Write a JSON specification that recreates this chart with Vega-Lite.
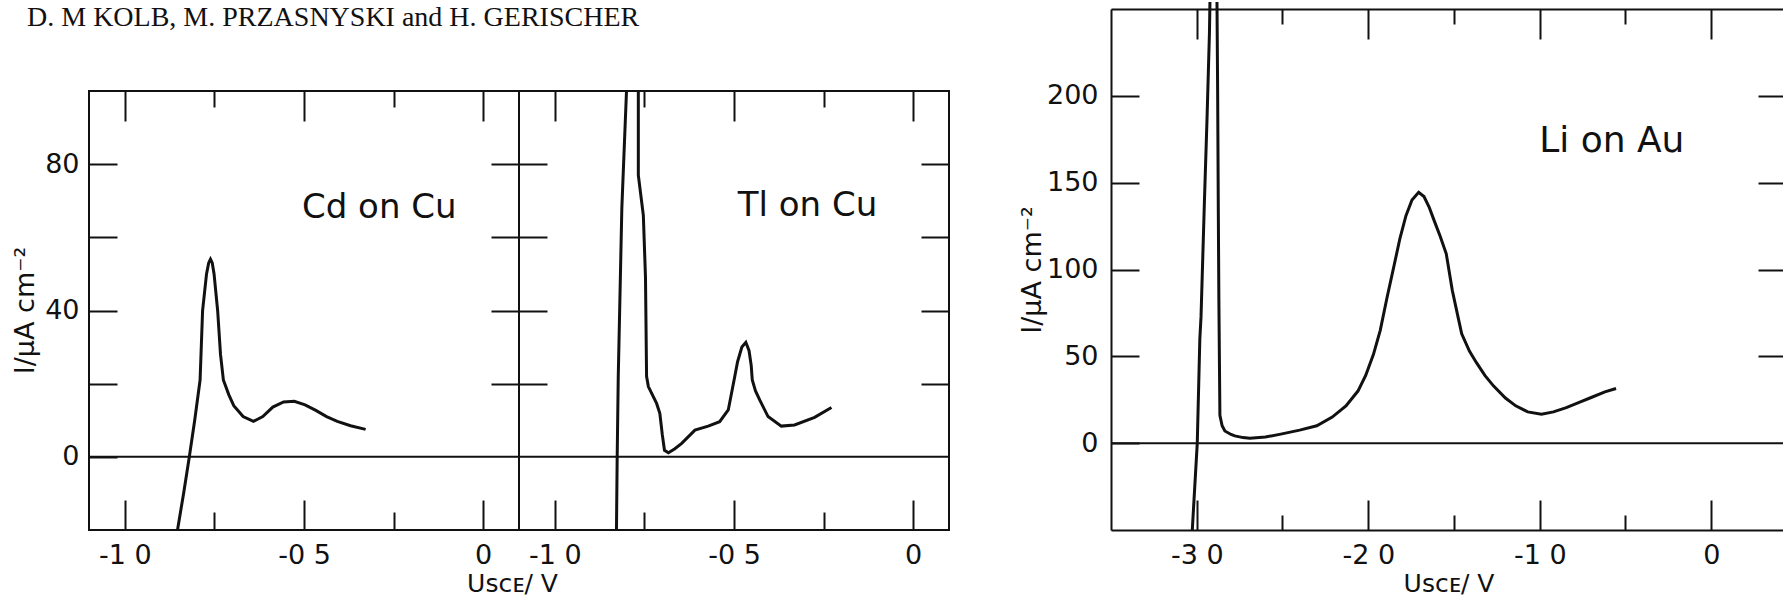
{
  "$schema": "https://vega.github.io/schema/vega-lite/v6.json",
  "padding": {"left": 11, "top": -4, "right": 0, "bottom": 0},
  "background": "white",
  "config": {
    "font": "DejaVu Sans",
    "view": {"stroke": null},
    "axis": {"grid": false, "domain": false, "tickColor": "#111", "tickWidth": 2, "labelColor": "#111", "labelFont": "DejaVu Sans", "labelFontSize": 27, "titleFont": "DejaVu Sans", "titleFontWeight": "normal", "titleColor": "#111", "domainColor": "#111", "domainWidth": 2, "labelFlush": false, "labelOverlap": false}
  },
  "datasets": {
    "zero": [{"I": 0}],
    "ann": [
      {"panel": "hdr", "V": -1.273, "I": 123.8, "label": "D. M KOLB, M. PRZASNYSKI and H. GERISCHER"},
      {"panel": "Cd", "V": -0.29, "I": 68, "label": "Cd on Cu"},
      {"panel": "Tl", "V": -0.295, "I": 68.5, "label": "Tl on Cu"},
      {"panel": "Li", "V": -0.58, "I": 174, "label": "Li on Au"}
    ],
    "cd": [
      {"s": "a", "i": 1, "V": -0.853, "I": -20},
      {"s": "a", "i": 2, "V": -0.836, "I": -10},
      {"s": "a", "i": 3, "V": -0.82, "I": 0},
      {"s": "a", "i": 4, "V": -0.805, "I": 10},
      {"s": "a", "i": 5, "V": -0.79, "I": 21},
      {"s": "a", "i": 6, "V": -0.783, "I": 40},
      {"s": "a", "i": 7, "V": -0.772, "I": 50},
      {"s": "a", "i": 8, "V": -0.766, "I": 53},
      {"s": "a", "i": 9, "V": -0.761, "I": 54},
      {"s": "a", "i": 10, "V": -0.756, "I": 53},
      {"s": "a", "i": 11, "V": -0.751, "I": 50},
      {"s": "a", "i": 12, "V": -0.741, "I": 40},
      {"s": "a", "i": 13, "V": -0.733, "I": 28},
      {"s": "a", "i": 14, "V": -0.725, "I": 21},
      {"s": "a", "i": 15, "V": -0.71, "I": 17},
      {"s": "a", "i": 16, "V": -0.696, "I": 14},
      {"s": "a", "i": 17, "V": -0.67, "I": 11},
      {"s": "a", "i": 18, "V": -0.641, "I": 9.7},
      {"s": "a", "i": 19, "V": -0.615, "I": 11},
      {"s": "a", "i": 20, "V": -0.587, "I": 13.6},
      {"s": "a", "i": 21, "V": -0.557, "I": 15},
      {"s": "a", "i": 22, "V": -0.527, "I": 15.2},
      {"s": "a", "i": 23, "V": -0.497, "I": 14.2},
      {"s": "a", "i": 24, "V": -0.467, "I": 12.7},
      {"s": "a", "i": 25, "V": -0.437, "I": 11},
      {"s": "a", "i": 26, "V": -0.407, "I": 9.7},
      {"s": "a", "i": 27, "V": -0.37, "I": 8.5},
      {"s": "a", "i": 28, "V": -0.328, "I": 7.5}
    ],
    "tl": [
      {"s": "a", "i": 1, "V": -0.828, "I": -20},
      {"s": "a", "i": 2, "V": -0.826, "I": 0},
      {"s": "a", "i": 3, "V": -0.823, "I": 22},
      {"s": "a", "i": 4, "V": -0.813, "I": 68},
      {"s": "a", "i": 5, "V": -0.8, "I": 100},
      {"s": "b", "i": 1, "V": -0.767, "I": 100},
      {"s": "b", "i": 2, "V": -0.767, "I": 77},
      {"s": "b", "i": 3, "V": -0.753, "I": 66},
      {"s": "b", "i": 4, "V": -0.747, "I": 49},
      {"s": "b", "i": 5, "V": -0.744, "I": 22},
      {"s": "b", "i": 6, "V": -0.739, "I": 19.2},
      {"s": "b", "i": 7, "V": -0.716, "I": 14.6},
      {"s": "b", "i": 8, "V": -0.707, "I": 11.9},
      {"s": "b", "i": 9, "V": -0.7, "I": 6},
      {"s": "b", "i": 10, "V": -0.694, "I": 1.8},
      {"s": "b", "i": 11, "V": -0.683, "I": 1.1},
      {"s": "b", "i": 12, "V": -0.665, "I": 2.2},
      {"s": "b", "i": 13, "V": -0.646, "I": 3.7},
      {"s": "b", "i": 14, "V": -0.609, "I": 7.3},
      {"s": "b", "i": 15, "V": -0.572, "I": 8.4},
      {"s": "b", "i": 16, "V": -0.54, "I": 9.6},
      {"s": "b", "i": 17, "V": -0.516, "I": 12.8},
      {"s": "b", "i": 18, "V": -0.498, "I": 21.9},
      {"s": "b", "i": 19, "V": -0.49, "I": 26},
      {"s": "b", "i": 20, "V": -0.478, "I": 30},
      {"s": "b", "i": 21, "V": -0.467, "I": 31.3},
      {"s": "b", "i": 22, "V": -0.458, "I": 29},
      {"s": "b", "i": 23, "V": -0.452, "I": 25},
      {"s": "b", "i": 24, "V": -0.449, "I": 21},
      {"s": "b", "i": 25, "V": -0.44, "I": 18},
      {"s": "b", "i": 26, "V": -0.428, "I": 15.5},
      {"s": "b", "i": 27, "V": -0.405, "I": 11},
      {"s": "b", "i": 28, "V": -0.368, "I": 8.4},
      {"s": "b", "i": 29, "V": -0.331, "I": 8.7},
      {"s": "b", "i": 30, "V": -0.275, "I": 10.8},
      {"s": "b", "i": 31, "V": -0.228, "I": 13.5}
    ],
    "li": [
      {"s": "a", "i": 1, "V": -3.026, "I": -50},
      {"s": "a", "i": 2, "V": -2.997, "I": 0},
      {"s": "a", "i": 3, "V": -2.982, "I": 60},
      {"s": "a", "i": 4, "V": -2.975, "I": 73},
      {"s": "a", "i": 5, "V": -2.955, "I": 140},
      {"s": "a", "i": 6, "V": -2.94, "I": 187},
      {"s": "a", "i": 7, "V": -2.926, "I": 236},
      {"s": "a", "i": 8, "V": -2.923, "I": 254},
      {"s": "b", "i": 1, "V": -2.882, "I": 254},
      {"s": "b", "i": 2, "V": -2.878, "I": 200},
      {"s": "b", "i": 3, "V": -2.874, "I": 130},
      {"s": "b", "i": 4, "V": -2.871, "I": 83},
      {"s": "b", "i": 5, "V": -2.865, "I": 16},
      {"s": "b", "i": 6, "V": -2.852, "I": 10},
      {"s": "b", "i": 7, "V": -2.836, "I": 7},
      {"s": "b", "i": 8, "V": -2.8, "I": 5},
      {"s": "b", "i": 9, "V": -2.778, "I": 4.2},
      {"s": "b", "i": 10, "V": -2.73, "I": 3.2},
      {"s": "b", "i": 11, "V": -2.69, "I": 2.8},
      {"s": "b", "i": 12, "V": -2.6, "I": 3.5},
      {"s": "b", "i": 13, "V": -2.51, "I": 5.2},
      {"s": "b", "i": 14, "V": -2.4, "I": 7.5},
      {"s": "b", "i": 15, "V": -2.3, "I": 10},
      {"s": "b", "i": 16, "V": -2.21, "I": 15},
      {"s": "b", "i": 17, "V": -2.13, "I": 21.5},
      {"s": "b", "i": 18, "V": -2.06, "I": 30},
      {"s": "b", "i": 19, "V": -2.015, "I": 39},
      {"s": "b", "i": 20, "V": -1.97, "I": 51},
      {"s": "b", "i": 21, "V": -1.93, "I": 65},
      {"s": "b", "i": 22, "V": -1.89, "I": 84},
      {"s": "b", "i": 23, "V": -1.85, "I": 102},
      {"s": "b", "i": 24, "V": -1.815, "I": 118},
      {"s": "b", "i": 25, "V": -1.78, "I": 131},
      {"s": "b", "i": 26, "V": -1.745, "I": 140},
      {"s": "b", "i": 27, "V": -1.706, "I": 144.5},
      {"s": "b", "i": 28, "V": -1.675, "I": 142},
      {"s": "b", "i": 29, "V": -1.645, "I": 136},
      {"s": "b", "i": 30, "V": -1.615, "I": 128},
      {"s": "b", "i": 31, "V": -1.58, "I": 119},
      {"s": "b", "i": 32, "V": -1.545, "I": 109},
      {"s": "b", "i": 33, "V": -1.51, "I": 88},
      {"s": "b", "i": 34, "V": -1.475, "I": 72},
      {"s": "b", "i": 35, "V": -1.455, "I": 63},
      {"s": "b", "i": 36, "V": -1.41, "I": 53},
      {"s": "b", "i": 37, "V": -1.37, "I": 46.5},
      {"s": "b", "i": 38, "V": -1.32, "I": 39},
      {"s": "b", "i": 39, "V": -1.27, "I": 33},
      {"s": "b", "i": 40, "V": -1.2, "I": 26},
      {"s": "b", "i": 41, "V": -1.14, "I": 21.5},
      {"s": "b", "i": 42, "V": -1.07, "I": 18},
      {"s": "b", "i": 43, "V": -0.99, "I": 16.7},
      {"s": "b", "i": 44, "V": -0.92, "I": 18},
      {"s": "b", "i": 45, "V": -0.845, "I": 20.5},
      {"s": "b", "i": 46, "V": -0.77, "I": 23.5},
      {"s": "b", "i": 47, "V": -0.7, "I": 26.3},
      {"s": "b", "i": 48, "V": -0.62, "I": 29.5},
      {"s": "b", "i": 49, "V": -0.555, "I": 31.5}
    ]
  },
  "spacing": 68,
  "hconcat": [
    {
      "bounds": "flush",
      "spacing": 0,
      "hconcat": [
        {
          "width": 430, "height": 521,
          "layer": [
            {"data": {"name": "zero"}, "mark": {"type": "rule", "color": "#111", "strokeWidth": 2},
             "encoding": {"y": {"field": "I", "type": "quantitative", "scale": {"domain": [-20, 122.415], "nice": false}, "axis": null}}},
            {"data": {"name": "zero"}, "mark": {"type": "rect", "filled": false, "stroke": "#111", "strokeWidth": 2},
             "encoding": {
               "x": {"datum": -1.1, "type": "quantitative", "scale": {"domain": [-1.1, 0.1], "nice": false, "zero": false}, "axis": null},
               "x2": {"datum": 0.1},
               "y": {"datum": -20, "type": "quantitative", "scale": {"domain": [-20, 122.415], "nice": false}, "axis": null},
               "y2": {"datum": 100}
             }},
            {"data": {"name": "cd"}, "mark": {"type": "line", "clip": true, "strokeWidth": 3, "color": "#111"},
             "encoding": {
               "x": {"field": "V", "type": "quantitative", "scale": {"domain": [-1.1, 0.1], "nice": false, "zero": false},
                     "axis": {"orient": "bottom", "values": [-1, -0.5, 0], "tickSize": -30, "labelPadding": 42, "labelExpr": "datum.value == 0 ? '0' : '-' + replace(format(abs(datum.value), '.1f'), '.', ' ')", "title": "Uꜱᴄᴇ/ V", "titleFontSize": 25, "titlePadding": 3, "titleX": 423}},
               "y": {"field": "I", "type": "quantitative", "scale": {"domain": [-20, 122.415], "nice": false},
                     "axis": {"orient": "left", "values": [0, 20, 40, 60, 80], "tickSize": -28, "labelPadding": 38, "labelExpr": "datum.value % 40 == 0 ? datum.label : ''", "title": "I/μA cm⁻²", "titleFontSize": 27, "titlePadding": 5, "titleY": 301}},
               "detail": {"field": "s"},
               "order": {"field": "i", "type": "quantitative"}
             }},
            {"data": {"name": "ann"}, "transform": [{"filter": "datum.panel == 'hdr'"}],
             "mark": {"type": "text", "fontSize": 28, "color": "#111", "align": "left", "baseline": "top", "font": "Liberation Serif", "clip": false},
             "encoding": {
               "x": {"field": "V", "type": "quantitative", "scale": {"domain": [-1.1, 0.1], "nice": false, "zero": false}, "axis": null},
               "y": {"field": "I", "type": "quantitative", "scale": {"domain": [-20, 122.415], "nice": false}, "axis": null},
               "text": {"field": "label"}
             }},
            {"data": {"name": "ann"}, "transform": [{"filter": "datum.panel == 'Cd'"}],
             "mark": {"type": "text", "fontSize": 34, "color": "#111", "align": "center", "baseline": "middle", "font": "DejaVu Sans"},
             "encoding": {
               "x": {"field": "V", "type": "quantitative", "scale": {"domain": [-1.1, 0.1], "nice": false, "zero": false},
                     "axis": {"orient": "top", "offset": -82, "values": [-1, -0.5, 0], "tickSize": -30, "labels": false, "title": null}},
               "y": {"field": "I", "type": "quantitative", "scale": {"domain": [-20, 122.415], "nice": false},
                     "axis": {"orient": "right", "values": [20, 40, 60, 80], "tickSize": -28, "labels": false, "title": null}},
               "text": {"field": "label"}
             }},
            {"data": {"name": "ann"}, "transform": [{"filter": "datum.panel == 'Cd'"}],
             "mark": {"type": "point", "opacity": 0},
             "encoding": {
               "x": {"field": "V", "type": "quantitative", "scale": {"domain": [-1.1, 0.1], "nice": false, "zero": false},
                     "axis": {"orient": "bottom", "values": [-0.75, -0.25], "tickSize": -18, "labels": false, "title": null}},
               "y": {"field": "I", "type": "quantitative", "scale": {"domain": [-20, 122.415], "nice": false}, "axis": null}
             }},
            {"data": {"name": "ann"}, "transform": [{"filter": "datum.panel == 'Cd'"}],
             "mark": {"type": "point", "opacity": 0},
             "encoding": {
               "x": {"field": "V", "type": "quantitative", "scale": {"domain": [-1.1, 0.1], "nice": false, "zero": false},
                     "axis": {"orient": "top", "offset": -82, "values": [-0.75, -0.25], "tickSize": -16, "labels": false, "title": null}},
               "y": {"field": "I", "type": "quantitative", "scale": {"domain": [-20, 122.415], "nice": false}, "axis": null}
             }}
          ],
          "resolve": {"axis": {"x": "independent", "y": "independent"}}
        },
        {
          "width": 430, "height": 521,
          "layer": [
            {"data": {"name": "zero"}, "mark": {"type": "rule", "color": "#111", "strokeWidth": 2},
             "encoding": {"y": {"field": "I", "type": "quantitative", "scale": {"domain": [-20, 122.415], "nice": false}, "axis": null}}},
            {"data": {"name": "zero"}, "mark": {"type": "rect", "filled": false, "stroke": "#111", "strokeWidth": 2},
             "encoding": {
               "x": {"datum": -1.1, "type": "quantitative", "scale": {"domain": [-1.1, 0.1], "nice": false, "zero": false}, "axis": null},
               "x2": {"datum": 0.1},
               "y": {"datum": -20, "type": "quantitative", "scale": {"domain": [-20, 122.415], "nice": false}, "axis": null},
               "y2": {"datum": 100}
             }},
            {"data": {"name": "tl"}, "mark": {"type": "line", "clip": true, "strokeWidth": 3, "color": "#111"},
             "encoding": {
               "x": {"field": "V", "type": "quantitative", "scale": {"domain": [-1.1, 0.1], "nice": false, "zero": false},
                     "axis": {"orient": "bottom", "values": [-1, -0.5, 0], "tickSize": -30, "labelPadding": 42, "labelExpr": "datum.value == 0 ? '0' : '-' + replace(format(abs(datum.value), '.1f'), '.', ' ')", "title": null}},
               "y": {"field": "I", "type": "quantitative", "scale": {"domain": [-20, 122.415], "nice": false},
                     "axis": {"orient": "left", "values": [20, 40, 60, 80], "tickSize": -28, "labels": false, "title": null}},
               "detail": {"field": "s"},
               "order": {"field": "i", "type": "quantitative"}
             }},
            {"data": {"name": "ann"}, "transform": [{"filter": "datum.panel == 'Tl'"}],
             "mark": {"type": "text", "fontSize": 34, "color": "#111", "align": "center", "baseline": "middle", "font": "DejaVu Sans"},
             "encoding": {
               "x": {"field": "V", "type": "quantitative", "scale": {"domain": [-1.1, 0.1], "nice": false, "zero": false},
                     "axis": {"orient": "top", "offset": -82, "values": [-1, -0.5, 0], "tickSize": -30, "labels": false, "title": null}},
               "y": {"field": "I", "type": "quantitative", "scale": {"domain": [-20, 122.415], "nice": false},
                     "axis": {"orient": "right", "values": [20, 40, 60, 80], "tickSize": -28, "labels": false, "title": null}},
               "text": {"field": "label"}
             }},
            {"data": {"name": "ann"}, "transform": [{"filter": "datum.panel == 'Tl'"}],
             "mark": {"type": "point", "opacity": 0},
             "encoding": {
               "x": {"field": "V", "type": "quantitative", "scale": {"domain": [-1.1, 0.1], "nice": false, "zero": false},
                     "axis": {"orient": "bottom", "values": [-0.75, -0.25], "tickSize": -18, "labels": false, "title": null}},
               "y": {"field": "I", "type": "quantitative", "scale": {"domain": [-20, 122.415], "nice": false}, "axis": null}
             }},
            {"data": {"name": "ann"}, "transform": [{"filter": "datum.panel == 'Tl'"}],
             "mark": {"type": "point", "opacity": 0},
             "encoding": {
               "x": {"field": "V", "type": "quantitative", "scale": {"domain": [-1.1, 0.1], "nice": false, "zero": false},
                     "axis": {"orient": "top", "offset": -82, "values": [-0.75, -0.25], "tickSize": -16, "labels": false, "title": null}},
               "y": {"field": "I", "type": "quantitative", "scale": {"domain": [-20, 122.415], "nice": false}, "axis": null}
             }}
          ],
          "resolve": {"axis": {"x": "independent", "y": "independent"}}
        }
      ]
    },
    {
      "width": 675, "height": 521,
      "layer": [
        {"data": {"name": "zero"}, "mark": {"type": "rule", "color": "#111", "strokeWidth": 2},
         "encoding": {"y": {"field": "I", "type": "quantitative", "scale": {"domain": [-50, 250], "nice": false}, "axis": null}}},
        {"data": {"name": "li"}, "mark": {"type": "line", "clip": false, "strokeWidth": 3, "color": "#111"},
         "encoding": {
           "x": {"field": "V", "type": "quantitative", "scale": {"domain": [-3.5, 0.436], "nice": false, "zero": false},
                 "axis": {"orient": "bottom", "values": [-3, -2, -1, 0], "tickSize": -30, "labelPadding": 42, "labelExpr": "datum.value == 0 ? '0' : '-' + replace(format(abs(datum.value), '.1f'), '.', ' ')", "title": "Uꜱᴄᴇ/ V", "titleFontSize": 25, "titlePadding": 3, "domain": true}},
           "y": {"field": "I", "type": "quantitative", "scale": {"domain": [-50, 250], "nice": false},
                 "axis": {"orient": "left", "values": [0, 50, 100, 150, 200], "tickSize": -28, "labelPadding": 41, "title": "I/μA cm⁻²", "titleFontSize": 27, "titlePadding": 0, "domain": true}},
           "detail": {"field": "s"},
           "order": {"field": "i", "type": "quantitative"}
         }},
        {"data": {"name": "ann"}, "transform": [{"filter": "datum.panel == 'Li'"}],
         "mark": {"type": "text", "fontSize": 36, "color": "#111", "align": "center", "baseline": "middle", "font": "DejaVu Sans"},
         "encoding": {
           "x": {"field": "V", "type": "quantitative", "scale": {"domain": [-3.5, 0.436], "nice": false, "zero": false},
                 "axis": {"orient": "top", "values": [-3, -2, -1, 0], "tickSize": -30, "labels": false, "title": null, "domain": true}},
           "y": {"field": "I", "type": "quantitative", "scale": {"domain": [-50, 250], "nice": false},
                 "axis": {"orient": "right", "values": [50, 100, 150, 200], "tickSize": -28, "labels": false, "title": null}},
           "text": {"field": "label"}
         }},
        {"data": {"name": "ann"}, "transform": [{"filter": "datum.panel == 'Li'"}],
         "mark": {"type": "point", "opacity": 0},
         "encoding": {
           "x": {"field": "V", "type": "quantitative", "scale": {"domain": [-3.5, 0.436], "nice": false, "zero": false},
                 "axis": {"orient": "bottom", "values": [-2.5, -1.5, -0.5], "tickSize": -15, "labels": false, "title": null}},
           "y": {"field": "I", "type": "quantitative", "scale": {"domain": [-50, 250], "nice": false}, "axis": null}
         }},
        {"data": {"name": "ann"}, "transform": [{"filter": "datum.panel == 'Li'"}],
         "mark": {"type": "point", "opacity": 0},
         "encoding": {
           "x": {"field": "V", "type": "quantitative", "scale": {"domain": [-3.5, 0.436], "nice": false, "zero": false},
                 "axis": {"orient": "top", "values": [-2.5, -1.5, -0.5], "tickSize": -15, "labels": false, "title": null}},
           "y": {"field": "I", "type": "quantitative", "scale": {"domain": [-50, 250], "nice": false}, "axis": null}
         }}
      ],
      "resolve": {"axis": {"x": "independent", "y": "independent"}}
    }
  ]
}
